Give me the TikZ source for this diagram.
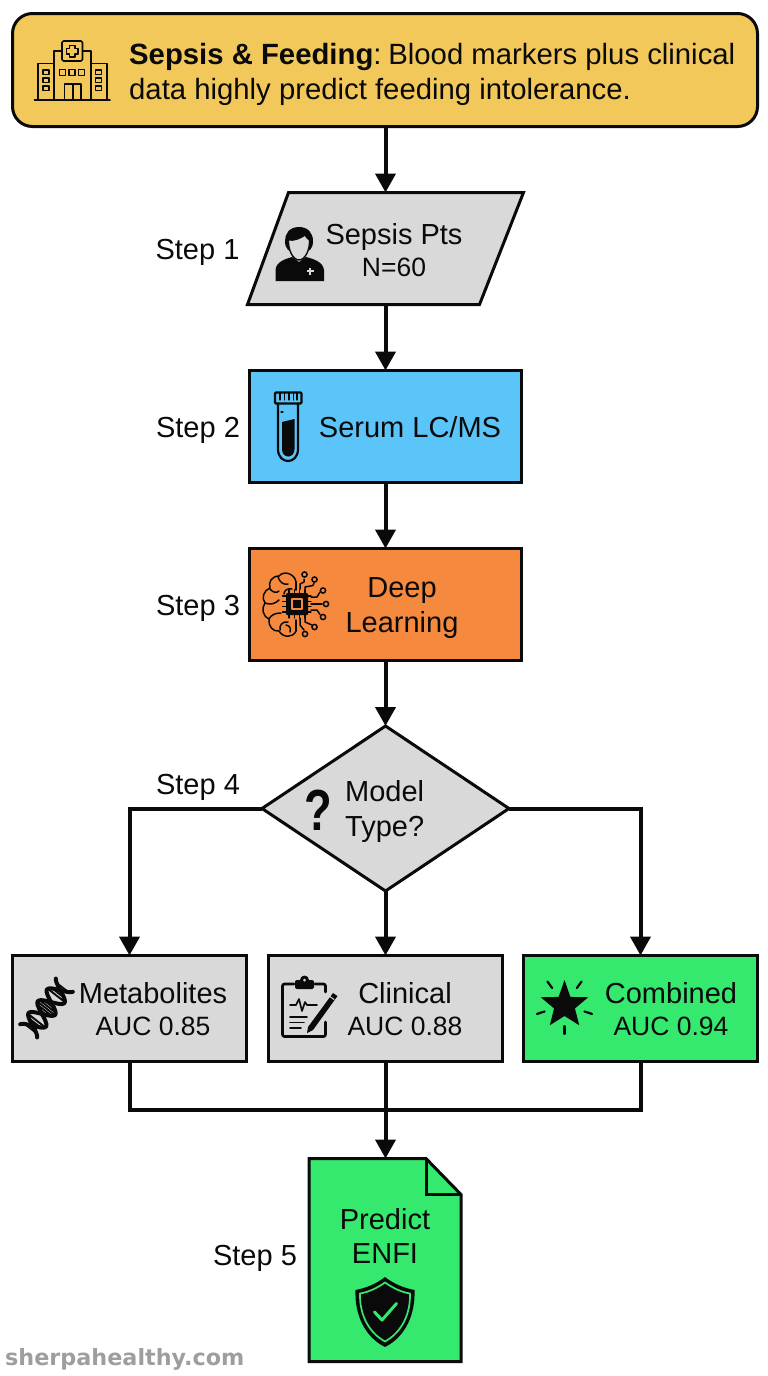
\documentclass[tikz,border=0pt]{standalone}
\usepackage{fontspec}
\setmainfont{Liberation Sans}
\newfontfamily\wmfont{DejaVu Sans}
\usetikzlibrary{arrows.meta,shapes.geometric,calc}
\definecolor{hdrY}{HTML}{F2C85B}
\definecolor{boxG}{HTML}{D9D9D9}
\definecolor{boxB}{HTML}{5BC4F8}
\definecolor{boxO}{HTML}{F58A3E}
\definecolor{boxL}{HTML}{35E86E}
\definecolor{ink}{HTML}{0A0A0A}
\newcommand{\subline}{\fontsize{26.5}{32}\selectfont}
\tikzset{
  shapebox/.style={draw=ink,line width=3pt,outer sep=0pt,inner sep=0pt,line join=miter},
  rectbox/.style={shapebox,rectangle},
  anchorbox/.style={rectangle,outer sep=0pt,inner sep=0pt},
  lab/.style={font=\fontsize{29}{34.5}\selectfont,align=center,inner sep=0pt,text=ink},
  sublab/.style={lab,font=\fontsize{29}{32}\selectfont},
  conn/.style={draw=ink,line width=4pt},
  arr/.style={conn,-{Triangle[length=19pt,width=20pt]}},
  ico/.style={draw=ink,line width=1.8pt,line join=round,line cap=round},
}
\begin{document}
\begin{tikzpicture}[x=1pt,y=-1pt]
\useasboundingbox (0,0) rectangle (768,1376);
% boxes
\node[rectbox,rounded corners=20pt,fill=hdrY,minimum width=745pt,minimum height=113pt] (hdr) at (385,70) {};
\node[anchorbox,minimum width=276pt,minimum height=112pt] (pts) at (385.5,248.5) {};
\draw[shapebox,fill=boxG] ($(pts.north west)+(41,0)$) -- (pts.north east) -- ($(pts.south east)+(-44,0)$) -- (pts.south west) -- cycle;
\node[rectbox,fill=boxB,minimum width=272pt,minimum height=112pt] (ser) at (385.5,426.5) {};
\node[rectbox,fill=boxO,minimum width=272pt,minimum height=112pt] (dl) at (385.5,604.5) {};
\node[shapebox,diamond,aspect=1.5,fill=boxG,minimum width=247pt,minimum height=165pt] (dec) at (385.5,808.5) {};
\node[rectbox,fill=boxG,minimum width=234pt,minimum height=106pt] (met) at (129.5,1008.5) {};
\node[rectbox,fill=boxG,minimum width=234pt,minimum height=106pt] (cli) at (385.5,1008.5) {};
\node[rectbox,fill=boxL,minimum width=234pt,minimum height=106pt] (com) at (640.5,1008.5) {};
\node[anchorbox,minimum width=152pt,minimum height=203pt] (doc) at (385,1260) {};
\draw[shapebox,fill=boxL] (doc.north west) -- ($(doc.north west)+(117,0)$) -- ($(doc.north east)+(0,36)$) -- (doc.south east) -- (doc.south west) -- cycle;
\draw[shapebox] ($(doc.north west)+(117,0)$) -- ($(doc.north west)+(117,36)$) -- ($(doc.north east)+(0,36)$);
% connectors
\coordinate (merge) at (385.5,1109.5);
\draw[arr] (hdr.south -| pts.north) -- (pts.north);
\draw[arr] (pts.south) -- (ser.north);
\draw[arr] (ser.south) -- (dl.north);
\draw[arr] (dl.south) -- (dec.north);
\draw[arr] (dec.west) -| (met.north);
\draw[arr] (dec.east) -| (com.north);
\draw[arr] (dec.south) -- (cli.north);
\draw[conn,line join=miter] (met.south) |- (merge) -| (com.south);
\draw[conn] (cli.south) -- (merge);
\draw[arr] (merge) -- (doc.north -| merge);
% text
\node[lab,font=\fontsize{29.3}{35}\selectfont,align=left,anchor=west] (hdrtxt) at (129,74.5) {\textbf{Sepsis \& Feeding}:\hspace{-4pt} Blood markers plus clinical\\data highly predict feeding intolerance.};
\node[lab] (s1) at (197.5,252) {Step 1};
\node[lab] (s2) at (198,430) {Step 2};
\node[lab] (s3) at (198,608) {Step 3};
\node[lab] (s4) at (198,787) {Step 4};
\node[lab] (s5) at (255,1258.5) {Step 5};
\node[sublab] (ptstxt) at (394,250.5) {Sepsis Pts\\\subline N=60};
\node[lab] (sertxt) at (410,427) {Serum LC/MS};
\node[lab] (dltxt) at (402,608) {Deep\\Learning};
\node[lab,align=left,anchor=west] (dectxt) at (345,811.5) {Model\\Type?};
\node[sublab] (mettxt) at (153,1009) {Metabolites\\\subline AUC 0.85};
\node[sublab] (clitxt) at (405,1009) {Clinical\\\subline AUC 0.88};
\node[sublab] (comtxt) at (671,1009) {Combined\\\subline AUC 0.94};
\node[lab] (doctxt) at (385,1236) {Predict\\ENFI};
\node[inner sep=0pt,text=ink,xscale=0.78,font=\fontsize{58}{58}\selectfont\bfseries] (qm) at (318,810) {?};
\node[inner sep=0pt,anchor=west,text=black!38,font=\fontsize{22.3}{24}\wmfont\bfseries] (wm) at (5,1359.5) {sherpahealthy.com};
% hospital icon
\begin{scope}[ico,line width=1.6pt]
\draw (34.5,100) -- (110,100);
\draw (38,100) -- (38,63.5) -- (54,63.5) -- (54,100);
\draw (107,100) -- (107,63.5) -- (91,63.5) -- (91,100);
\draw (54,100) -- (54,51) -- (91,51) -- (91,100);
\draw[fill=hdrY,rounded corners=1.5pt] (62,41) rectangle (82.5,61);
\draw (69.5,45.5) -- (75,45.5) -- (75,48.5) -- (78,48.5) -- (78,54) -- (75,54) -- (75,57) -- (69.5,57) -- (69.5,54) -- (66.5,54) -- (66.5,48.5) -- (69.5,48.5) -- cycle;
\draw (64.5,100) -- (64.5,84) -- (81,84) -- (81,100) (72.7,84) -- (72.7,100);
\foreach \x in {59.5,69,78.5} \draw (\x,69.5) rectangle +(6,6);
\foreach \y in {70,78,86} { \draw (43,\y) rectangle +(6,4.5); \draw (95.5,\y) rectangle +(6,4.5); }
\end{scope}
% person icon
\begin{scope}
\fill[ink] (275.5,281) -- (275.5,270) .. controls (276,262) and (285,259) .. (292,257) -- (299,262) -- (306,257) .. controls (314,259) and (323,262) .. (324,270) -- (324,281) -- cycle;
\fill[ink] (299,227) .. controls (289,227) and (285,234) .. (285,241) .. controls (285,245) and (286,248) .. (288,250) -- (310,250) .. controls (312,248) and (313,245) .. (313,241) .. controls (313,233) and (308,227) .. (299,227) -- cycle;
\draw[ink,line width=1.4pt,fill=boxG] (288.5,240) .. controls (294,241) and (301,238) .. (305,235) .. controls (306,237) and (308,239) .. (309.5,240) .. controls (310,250) and (305,260) .. (299,260) .. controls (293,260) and (288,250) .. (288.5,240) -- cycle;
\draw[boxG,line width=1.5pt] (306.5,271) -- (313.5,271) (310,267.5) -- (310,274.5);
\end{scope}
% test tube icon
\begin{scope}[ico,line width=2.2pt]
\draw[rounded corners=1pt] (275,392.5) rectangle (301.5,403.5);
\foreach \x in {280,284.5,289,293.5,297} \draw[line width=1.2pt] (\x,393) -- (\x,400);
\draw (278,403.5) -- (278,449) .. controls (278,465) and (298,465) .. (298,449) -- (298,403.5);
\fill[ink] (282,422) -- (294.5,419) -- (294.5,449) .. controls (294.5,459) and (282,459) .. (282,449) -- cycle;
\draw[line width=1.1pt] (281,412) -- (283,412);
\end{scope}
% brain-chip icon
\begin{scope}[ico,line width=1.5pt]
\draw (296,582) .. controls (295,574) and (284,570) .. (279,576) .. controls (272,576) and (268,582) .. (270,588) .. controls (264,590) and (261,598) .. (265,603) .. controls (261,608) and (263,617) .. (269,619) .. controls (268,626) and (273,632) .. (279,631) .. controls (283,638) and (293,638) .. (296,631);
\draw (296,582) -- (296,590) (296,620) -- (296,631);
\draw (278,577) .. controls (280,583) and (284,585) .. (288,584);
\draw (270,589) .. controls (273,593) and (277,593) .. (279,591);
\draw (265,603) .. controls (270,605) and (275,604) .. (279,600);
\draw (269,619) .. controls (271,615) and (275,613) .. (281,613);
\draw (280,630) .. controls (279,625) and (283,621) .. (288,622) (284,594) .. controls (284,590) and (288,588) .. (292,589) (290,632) .. controls (291,628) and (290,626) .. (286,625);
\fill[ink,rounded corners=1pt] (286,593) rectangle (308,615);
\draw[boxO,line width=1.6pt] (292,599) rectangle (302,609);
\foreach \t in {0,1,2,3} {
  \draw[line width=1.2pt] (289+\t*5.3,589.5) -- +(0,4) (289+\t*5.3,614) -- +(0,4) (282.5,596+\t*5.3) -- +(4,0) (307,596+\t*5.3) -- +(4,0);
}
\draw (300,589) -- (300,584) -- (304,582) -- (304,579);
\draw (305,590) -- (305,587) -- (313,585.5) -- (314,583);
\draw (311,597) -- (317,597) -- (320,592);
\draw (311,604) -- (322,604);
\draw (311,610) -- (317,610) -- (320,614.5);
\draw (305,618) -- (305,622) -- (312,625);
\draw (300,618) -- (300,625) -- (304,630);
\foreach \a/\b in {304.5/574.5,314.5/579.5,323/590.5,326/604,323/617,314.5/627,305/634} \draw (\a,\b) circle (2.6);
\end{scope}
% DNA icon
\begin{scope}[shift={(46.5,1008)},rotate=52]
\draw[ink,line width=4pt,line cap=round] plot[domain=-29:29,samples=50,smooth] (\x,{11*cos(\x*12)});
\draw[ink,line width=4pt,line cap=round] plot[domain=-29:29,samples=50,smooth] (\x,{-11*cos(\x*12)});
\foreach \x in {-26,-23,-19,-16,-5.5,-3,-0.5,2,4.5,6.5,16,19,23,26} \draw[ink,line width=1.9pt] (\x,{11*cos(\x*12)}) -- (\x,{-11*cos(\x*12)});
\end{scope}
% clipboard icon
\begin{scope}[ico,line width=2.7pt]
\draw[rounded corners=2pt] (325.5,1022) -- (325.5,1036.5) -- (282.5,1036.5) -- (282.5,984) -- (294,984);
\draw[rounded corners=2pt] (315,984) -- (325.5,984) -- (325.5,992);
\fill[ink,rounded corners=2pt] (295,983) -- (295,980) -- (314,980) -- (314,989) -- (295,989) -- cycle;
\fill[ink] (304.5,980) circle (4.5);
\fill[boxG] (304.5,980) circle (1.5);
\draw[line width=1.6pt] (290,1005) -- (296,1005) -- (299,999) -- (302,1011) -- (305,1002) -- (307,1005) -- (317,1005);
\draw[line width=1.6pt] (290,1017) -- (307,1017) (290,1022.5) -- (304,1022.5) (290,1028) -- (301,1028);
\fill[ink] (308,1027) -- (333,993) -- (337.5,996) -- (313,1030) -- (307,1033) -- cycle;
\draw[boxG,line width=1pt] (328.5,995.5) -- (334,999.5);
\end{scope}
% star icon
\begin{scope}[shift={(564.5,1005)}]
\fill[ink] (-90:25) -- (-54:10) -- (-18:25) -- (18:11) -- (54:25) -- (90:11) -- (126:25) -- (162:11) -- (198:25) -- (234:10) -- cycle;
\foreach \a in {-126,-54,18,90,162} \draw[ink,line width=2.2pt,line cap=round] (\a:21) -- (\a:29);
\end{scope}
% shield icon
\begin{scope}
\fill[ink] (385,1277) .. controls (394,1284) and (404,1288) .. (414.5,1290) .. controls (415.5,1315) and (405,1337) .. (385,1347) .. controls (365,1337) and (354.5,1315) .. (355.5,1290) .. controls (366,1288) and (376,1284) .. (385,1277) -- cycle;
\draw[boxL,line width=1.7pt] (385,1282.5) .. controls (393,1288) and (401,1292) .. (410,1293.5) .. controls (410.5,1314) and (402,1332) .. (385,1341.5) .. controls (368,1332) and (359.5,1314) .. (360,1293.5) .. controls (369,1292) and (377,1288) .. (385,1282.5) -- cycle;
\draw[boxL,line width=3pt,line cap=round,line join=round] (374.5,1312) -- (382,1320) -- (396.5,1303.5);
\end{scope}
\end{tikzpicture}
\end{document}
